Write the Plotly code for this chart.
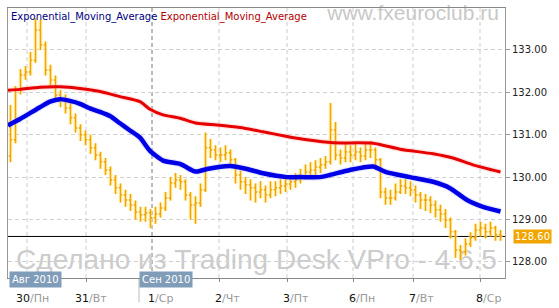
import plotly.graph_objects as go

# ---------------- data ----------------
bars = list(range(99))
opens = [130.50, 130.88, 132.06, 132.41, 132.48, 132.76, 133.47, 133.12, 132.53, 132.29,
         131.94, 131.82, 131.63, 131.40, 131.16, 131.00, 130.88, 130.69, 130.52, 130.36,
         130.17, 129.93, 129.75, 129.58, 129.46, 129.34, 129.18, 129.11, 129.16, 129.04,
         129.13, 129.27, 129.51, 129.86, 129.93, 129.89, 129.58, 129.34, 129.39, 129.70,
         130.69, 130.64, 130.52, 130.52, 130.57, 130.41, 130.05, 129.89, 129.82, 129.75,
         129.65, 129.70, 129.58, 129.70, 129.75, 129.79, 129.84, 129.89, 129.93, 130.03,
         130.12, 130.17, 130.24, 130.29, 130.36, 131.11, 130.52, 130.45, 130.59, 130.52,
         130.59, 130.50, 130.64, 130.64, 130.41, 129.65, 129.51, 129.51, 129.65, 129.79,
         129.75, 129.70, 129.58, 129.46, 129.46, 129.34, 129.23, 129.13, 128.99, 128.71,
         128.28, 128.24, 128.42, 128.57, 128.75, 128.80, 128.71, 128.80, 128.64]
highs = [131.70, 132.15, 132.55, 132.62, 132.95, 133.75, 133.71, 133.20, 132.65, 132.40,
         132.05, 131.95, 131.75, 131.50, 131.25, 131.10, 131.00, 130.80, 130.60, 130.45,
         130.25, 130.05, 129.85, 129.70, 129.60, 129.45, 129.30, 129.30, 129.25, 129.30,
         129.40, 129.65, 130.00, 130.10, 130.05, 129.95, 129.65, 129.55, 129.85, 131.05,
         130.90, 130.75, 130.70, 130.75, 130.65, 130.45, 130.15, 130.00, 129.95, 129.85,
         129.90, 129.80, 129.90, 129.90, 129.95, 130.00, 130.05, 130.10, 130.20, 130.30,
         130.35, 130.40, 130.45, 130.50, 131.75, 131.30, 130.65, 130.80, 130.75, 130.80,
         130.70, 130.80, 130.85, 130.70, 130.45, 129.75, 129.70, 129.85, 129.95, 129.95,
         129.90, 129.80, 129.65, 129.60, 129.55, 129.45, 129.35, 129.25, 129.05, 128.75,
         128.40, 128.55, 128.70, 128.90, 128.95, 128.90, 128.95, 128.85, 128.75]
lows = [130.35, 130.80, 131.95, 132.30, 132.40, 132.70, 133.00, 132.40, 132.10, 131.80,
        131.65, 131.50, 131.25, 131.05, 130.85, 130.75, 130.55, 130.40, 130.20, 130.05,
        129.80, 129.60, 129.40, 129.30, 129.20, 129.00, 128.95, 128.95, 128.80, 128.90,
        129.05, 129.20, 129.45, 129.75, 129.70, 129.45, 129.00, 128.90, 129.30, 129.65,
        130.45, 130.40, 130.35, 130.40, 130.25, 129.85, 129.70, 129.60, 129.45, 129.40,
        129.50, 129.40, 129.50, 129.55, 129.60, 129.65, 129.70, 129.75, 129.85, 129.95,
        130.00, 130.05, 130.10, 130.20, 130.30, 130.40, 130.30, 130.35, 130.35, 130.40,
        130.35, 130.40, 130.45, 130.20, 129.50, 129.35, 129.35, 129.45, 129.60, 129.60,
        129.55, 129.40, 129.25, 129.20, 129.15, 129.05, 128.95, 128.80, 128.55, 128.10,
        128.05, 128.15, 128.35, 128.50, 128.60, 128.55, 128.60, 128.50, 128.50]
closes = [130.88, 132.06, 132.41, 132.48, 132.76, 133.47, 133.12, 132.53, 132.29, 131.94,
          131.82, 131.63, 131.40, 131.16, 131.00, 130.88, 130.69, 130.52, 130.36, 130.17,
          129.93, 129.75, 129.58, 129.46, 129.34, 129.18, 129.11, 129.16, 129.04, 129.13,
          129.27, 129.51, 129.86, 129.93, 129.89, 129.58, 129.34, 129.39, 129.70, 130.69,
          130.64, 130.52, 130.52, 130.57, 130.41, 130.05, 129.89, 129.82, 129.75, 129.65,
          129.70, 129.58, 129.70, 129.75, 129.79, 129.84, 129.89, 129.93, 130.03, 130.12,
          130.17, 130.24, 130.29, 130.36, 131.11, 130.52, 130.45, 130.59, 130.52, 130.59,
          130.50, 130.64, 130.64, 130.41, 129.65, 129.51, 129.51, 129.65, 129.79, 129.75,
          129.70, 129.58, 129.46, 129.46, 129.34, 129.23, 129.13, 128.99, 128.71, 128.28,
          128.24, 128.42, 128.57, 128.75, 128.80, 128.71, 128.80, 128.64, 128.61]

ema_fast_x = [-0.5, 1.9, 3.9, 5.9, 7.9, 9.9, 11.9, 13.9, 15.9, 17.9, 19.9, 21.9, 23.9, 25.9,
              27.9, 30.5, 33.9, 36.5, 37.3, 39.3, 43.9, 47.3, 50.5, 55.3, 57.9, 61.9, 63.9,
              67.9, 72.5, 75.3, 79.9, 84.5, 87.9, 91.3, 94.5, 98.0]
ema_fast = [131.22, 131.37, 131.51, 131.65, 131.78, 131.84, 131.80, 131.73, 131.62, 131.54,
            131.44, 131.27, 131.10, 130.93, 130.62, 130.39, 130.31, 130.15, 130.13, 130.19,
            130.26, 130.19, 130.09, 130.00, 130.00, 130.00, 130.05, 130.17, 130.25, 130.11,
            130.00, 129.89, 129.74, 129.46, 129.30, 129.19]
ema_slow_x = [-0.5, 1.9, 5.9, 9.9, 13.9, 17.9, 21.9, 25.9, 27.9, 30.5, 33.9, 37.3, 41.3,
              45.9, 50.5, 55.3, 59.3, 64.5, 72.5, 77.9, 84.5, 88.5, 92.5, 98.0]
ema_slow = [132.05, 132.07, 132.12, 132.13, 132.09, 132.02, 131.90, 131.78, 131.60, 131.47,
            131.39, 131.27, 131.23, 131.17, 131.07, 130.96, 130.88, 130.81, 130.80, 130.66,
            130.55, 130.45, 130.29, 130.12]

legend_names = ["Exponential_Moving_Average", "Exponential_Moving_Average"]
day_start_bar = [3.3, 15.1, 28.3, 41.7, 55.3, 68.5, 80.5, 93.9]
day_numbers = ["30", "31", "1", "2", "3", "6", "7", "8"]
day_names = ["Пн", "Вт", "Ср", "Чт", "Пт", "Пн", "Вт", "Ср"]
month_labels = ["Авг 2010", "Сен 2010"]
month_start_bar = [None, 25.7]
y_ticks = [128, 129, 130, 131, 132, 133]
last_price = 128.60

# ---------------- figure ----------------
ORANGE = "#F2A400"
fig = go.Figure()

fig.add_trace(go.Scatter(x=ema_fast_x, y=ema_fast, mode="lines",
                         line=dict(color="rgba(170,170,255,0.25)", width=7, shape="spline", smoothing=0.6),
                         hoverinfo="skip"))
fig.add_trace(go.Scatter(x=ema_fast_x, y=ema_fast, mode="lines",
                         line=dict(color="#0000E6", width=4.5, shape="spline", smoothing=0.6),
                         hoverinfo="skip"))
fig.add_trace(go.Scatter(x=ema_slow_x, y=ema_slow, mode="lines",
                         line=dict(color="rgba(255,170,170,0.3)", width=5.5, shape="spline", smoothing=0.6),
                         hoverinfo="skip"))
fig.add_trace(go.Scatter(x=ema_slow_x, y=ema_slow, mode="lines",
                         line=dict(color="#E60000", width=3, shape="spline", smoothing=0.6),
                         hoverinfo="skip"))

# price glow + price bars
fig.add_trace(go.Ohlc(x=bars, open=opens, high=highs, low=lows, close=closes,
                      increasing=dict(line=dict(color="rgba(255,236,150,0.6)", width=4)),
                      decreasing=dict(line=dict(color="rgba(255,236,150,0.6)", width=4)),
                      tickwidth=0.35, hoverinfo="skip"))
fig.add_trace(go.Ohlc(x=bars, open=opens, high=highs, low=lows, close=closes,
                      increasing=dict(line=dict(color=ORANGE, width=1.5)),
                      decreasing=dict(line=dict(color=ORANGE, width=1.5)),
                      tickwidth=0.35, hoverinfo="skip"))

shapes = []
for i, xv in enumerate(day_start_bar):
    dark = day_numbers[i] == "1"
    shapes.append(dict(type="line", xref="x", yref="paper", x0=xv, x1=xv, y0=0, y1=1,
                       line=dict(color="#777777" if dark else "#cccccc", width=1, dash="4px,3px"),
                       layer="below"))
shapes.append(dict(type="line", xref="x", yref="paper", x0=month_start_bar[1], x1=month_start_bar[1],
                   y0=0, y1=-0.09, line=dict(color="#bbbbbb", width=1), layer="below"))
shapes.append(dict(type="line", xref="paper", yref="y", x0=0, x1=1, y0=last_price, y1=last_price,
                   line=dict(color="#000000", width=1), layer="below"))
shapes.append(dict(type="rect", xref="paper", yref="paper", x0=0.63, x1=1.0, y0=0.9, y1=1.08,
                   line=dict(width=0), fillcolor="rgba(0,0,0,0)", layer="below",
                   label=dict(text="www.fxeuroclub.ru", textposition="middle center",
                              font=dict(family="Liberation Sans, Arial", size=21, color="#c8c8c8"))))
shapes.append(dict(type="rect", xref="paper", yref="paper", x0=0.0, x1=1.0, y0=0.0, y1=0.16,
                   line=dict(width=0), fillcolor="rgba(0,0,0,0)", layer="below",
                   label=dict(text="Сделано из Trading Desk VPro - 4.6.5", textposition="middle center",
                              font=dict(family="Liberation Sans, Arial", size=28, color="#cccccc"))))

annotations = []
annotations.append(dict(xref="paper", yref="paper", x=0, y=1, xanchor="left", yanchor="top",
                        xshift=1, yshift=-1, showarrow=False,
                        text=f"<span style='color:#000080'>{legend_names[0]}</span> "
                             f"<span style='color:#B00000'>{legend_names[1]}</span>",
                        font=dict(family="DejaVu Sans", size=10)))
for i, xv in enumerate(day_start_bar):
    n = len(day_numbers[i])
    annotations.append(dict(xref="x", yref="paper", x=xv, y=0, xanchor="left", yanchor="middle",
                            xshift=-7 * n + 1, yshift=-20, showarrow=False,
                            text=f"{day_numbers[i]}<span style='color:#999999'>/{day_names[i]}</span>",
                            font=dict(family="DejaVu Sans", size=11, color="#111111")))
annotations.append(dict(xref="paper", yref="paper", x=0, y=0, xanchor="left", yanchor="middle",
                        xshift=1, yshift=-1, showarrow=False, text=month_labels[0],
                        bgcolor="#7f9cb8", borderpad=2,
                        font=dict(family="DejaVu Sans", size=10, color="#ffffff")))
annotations.append(dict(xref="x", yref="paper", x=month_start_bar[1], y=0, xanchor="left",
                        yanchor="middle", yshift=-1, showarrow=False, text=month_labels[1],
                        bgcolor="#7f9cb8", borderpad=2,
                        font=dict(family="DejaVu Sans", size=10, color="#ffffff")))
annotations.append(dict(xref="paper", yref="y", x=1, y=last_price, xanchor="left", yanchor="middle",
                        xshift=8, showarrow=False, text=f"{last_price:.2f}",
                        bgcolor="#F0A500", borderpad=1,
                        font=dict(family="DejaVu Sans", size=10, color="#ffffff")))

fig.update_layout(
    width=559, height=308, autosize=False,
    margin=dict(l=8, r=54, t=8, b=30),
    paper_bgcolor="#ffffff", plot_bgcolor="#ffffff",
    showlegend=False,
    shapes=shapes, annotations=annotations,
    xaxis=dict(range=[-0.5, 98.9], showgrid=False, zeroline=False,
               tickvals=day_start_bar, showticklabels=False,
               ticks="outside", ticklen=3, tickcolor="#888888",
               showline=True, linecolor="#888888", mirror=True,
               rangeslider=dict(visible=False)),
    yaxis=dict(range=[127.62, 133.99], side="right", tickvals=y_ticks, tickformat=".2f",
               ticks="outside", ticklen=4, tickcolor="#999999",
               tickfont=dict(family="DejaVu Sans", size=10, color="#222222"),
               showgrid=True, gridcolor="#d0d0d0", griddash="4px,3px", zeroline=False,
               showline=True, linecolor="#999999", mirror=True),
)

fig.write_html("out.html")
